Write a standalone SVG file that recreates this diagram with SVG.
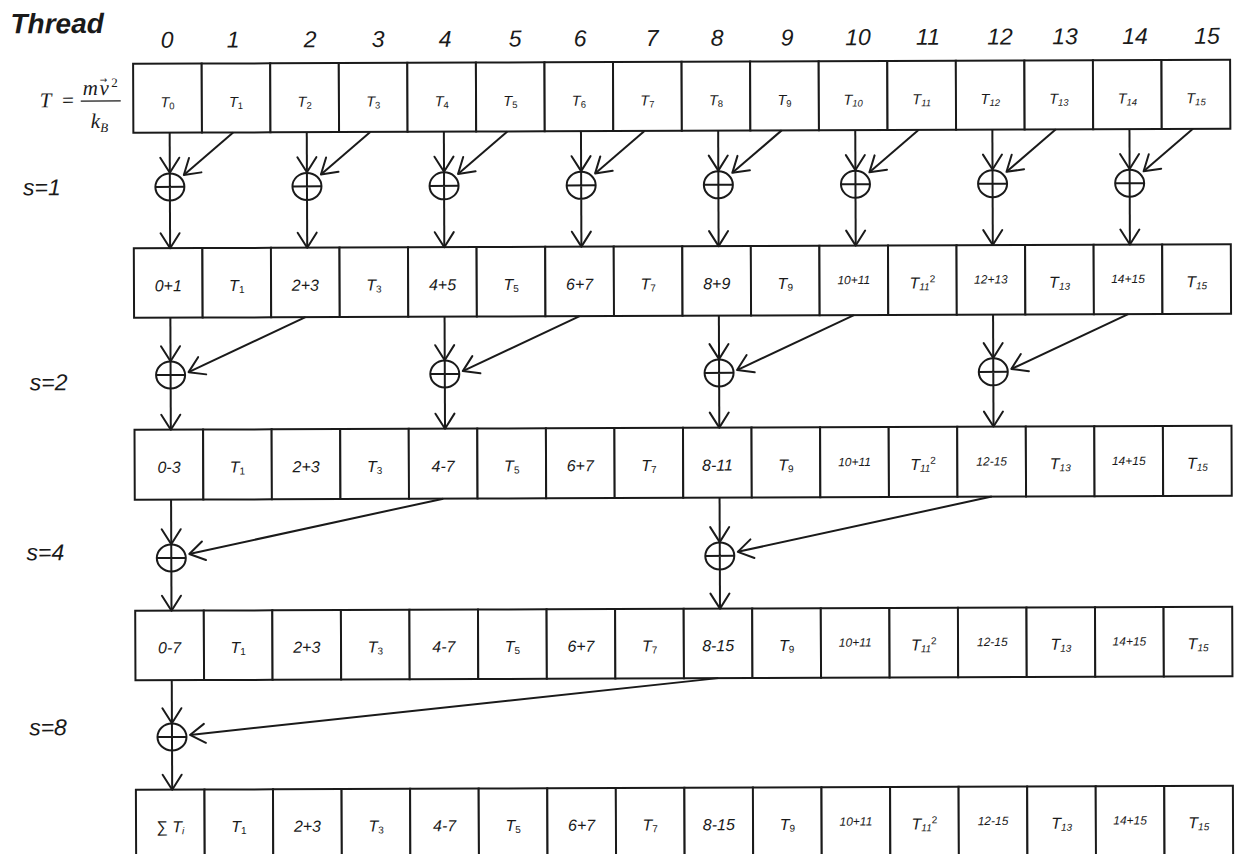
<svg xmlns="http://www.w3.org/2000/svg" width="1238" height="854" viewBox="0 0 1238 854">
<style>
.box{fill:#fff;stroke:#1a1a1a;stroke-width:2}
.ln{stroke:#1a1a1a;stroke-width:2;fill:none;marker-end:url(#ah)}
.op{fill:none;stroke:#1a1a1a;stroke-width:2}
text{fill:#1a1a1a;font-family:"Liberation Sans",Arial,sans-serif;font-style:italic}
.num{font-size:23px;text-anchor:middle}
.slab{font-size:23px}
.t1{font-size:14.5px;text-anchor:middle}
.lab{font-size:16px;text-anchor:middle}
.sm{font-size:12px;text-anchor:middle}
.sb{font-size:10px}
.sn{font-size:10px;font-style:normal}
.sb1{font-size:9.5px;font-style:normal}
.sb1i{font-size:9.5px}
.math{font-family:"Liberation Serif","Times New Roman",serif}
</style>
<defs>
<marker id="ah" markerUnits="userSpaceOnUse" markerWidth="40" markerHeight="40" refX="0" refY="0" orient="auto" overflow="visible">
<path d="M-15,-9.5 L0,0 L-15,9.5" fill="none" stroke="#1a1a1a" stroke-width="2" stroke-linejoin="round" stroke-linecap="round"/>
</marker>
<g id="oplus"><ellipse cx="0" cy="0" rx="14.5" ry="13.5"/><path d="M-14.5,0H14.5M0,-13.5V13.5"/></g>
</defs>
<rect x="0" y="0" width="1238" height="854" fill="#fff"/>
<g transform="rotate(-0.22 619 427)">
<g id="header">
<text x="12" y="31" style="font-size:28px;font-weight:bold">Thread</text>
<text class="num" x="168.5" y="46">0</text>
<text class="num" x="234.5" y="46">1</text>
<text class="num" x="311.5" y="46">2</text>
<text class="num" x="379.5" y="46">3</text>
<text class="num" x="446.5" y="46">4</text>
<text class="num" x="516.5" y="46">5</text>
<text class="num" x="581.5" y="46">6</text>
<text class="num" x="653.5" y="46">7</text>
<text class="num" x="718.5" y="46">8</text>
<text class="num" x="788.5" y="46">9</text>
<text class="num" x="859.5" y="46">10</text>
<text class="num" x="929.5" y="46">11</text>
<text class="num" x="1001.5" y="46">12</text>
<text class="num" x="1066.5" y="46">13</text>
<text class="num" x="1136.5" y="46">14</text>
<text class="num" x="1208.5" y="46">15</text>
</g>
<g id="formula">
<text class="math" x="41" y="105" font-size="21">T</text>
<text class="math" x="62" y="105" font-size="21" font-style="normal">=</text>
<line x1="82" y1="99" x2="122" y2="99" stroke="#1a1a1a" stroke-width="1.3"/>
<text class="math" x="84" y="93" font-size="21">m<tspan dx="1.5">v</tspan><tspan dx="-9" dy="-12" font-size="9" font-style="normal" font-family="DejaVu Sans, sans-serif">→</tspan><tspan dx="4" dy="4" font-size="13" font-style="normal">2</tspan></text>
<text class="math" x="92" y="126" font-size="21">k<tspan dy="4" font-size="13">B</tspan></text>
</g>
<g id="steps">
<text class="slab" x="24" y="193">s=1</text>
<text class="slab" x="30" y="388">s=2</text>
<text class="slab" x="26" y="558">s=4</text>
<text class="slab" x="28" y="733">s=8</text>
</g>
<g id="row1">
<g id="r1c0"><rect class="box" x="134.5" y="62" width="68.6" height="69"/><text class="t1" x="168.8" y="105.5">T<tspan class="sb1" dy="2">0</tspan></text></g>
<g id="r1c1"><rect class="box" x="203.1" y="62" width="68.6" height="69"/><text class="t1" x="237.3" y="105.5">T<tspan class="sb1" dy="2">1</tspan></text></g>
<g id="r1c2"><rect class="box" x="271.6" y="62" width="68.6" height="69"/><text class="t1" x="305.9" y="105.5">T<tspan class="sb1" dy="2">2</tspan></text></g>
<g id="r1c3"><rect class="box" x="340.2" y="62" width="68.6" height="69"/><text class="t1" x="374.5" y="105.5">T<tspan class="sb1" dy="2">3</tspan></text></g>
<g id="r1c4"><rect class="box" x="408.7" y="62" width="68.6" height="69"/><text class="t1" x="443" y="105.5">T<tspan class="sb1" dy="2">4</tspan></text></g>
<g id="r1c5"><rect class="box" x="477.3" y="62" width="68.6" height="69"/><text class="t1" x="511.6" y="105.5">T<tspan class="sb1" dy="2">5</tspan></text></g>
<g id="r1c6"><rect class="box" x="545.9" y="62" width="68.6" height="69"/><text class="t1" x="580.1" y="105.5">T<tspan class="sb1" dy="2">6</tspan></text></g>
<g id="r1c7"><rect class="box" x="614.4" y="62" width="68.6" height="69"/><text class="t1" x="648.7" y="105.5">T<tspan class="sb1" dy="2">7</tspan></text></g>
<g id="r1c8"><rect class="box" x="683" y="62" width="68.6" height="69"/><text class="t1" x="717.3" y="105.5">T<tspan class="sb1" dy="2">8</tspan></text></g>
<g id="r1c9"><rect class="box" x="751.5" y="62" width="68.6" height="69"/><text class="t1" x="785.8" y="105.5">T<tspan class="sb1" dy="2">9</tspan></text></g>
<g id="r1c10"><rect class="box" x="820.1" y="62" width="68.6" height="69"/><text class="t1" x="854.4" y="105.5">T<tspan class="sb1i" dy="2">10</tspan></text></g>
<g id="r1c11"><rect class="box" x="888.7" y="62" width="68.6" height="69"/><text class="t1" x="922.9" y="105.5">T<tspan class="sb1i" dy="2">11</tspan></text></g>
<g id="r1c12"><rect class="box" x="957.2" y="62" width="68.6" height="69"/><text class="t1" x="991.5" y="105.5">T<tspan class="sb1i" dy="2">12</tspan></text></g>
<g id="r1c13"><rect class="box" x="1025.8" y="62" width="68.6" height="69"/><text class="t1" x="1060.1" y="105.5">T<tspan class="sb1i" dy="2">13</tspan></text></g>
<g id="r1c14"><rect class="box" x="1094.3" y="62" width="68.6" height="69"/><text class="t1" x="1128.6" y="105.5">T<tspan class="sb1i" dy="2">14</tspan></text></g>
<g id="r1c15"><rect class="box" x="1162.9" y="62" width="68.6" height="69"/><text class="t1" x="1197.2" y="105.5">T<tspan class="sb1i" dy="2">15</tspan></text></g>
</g>
<g id="row2">
<g id="r2c0"><rect class="box" x="134.5" y="246.5" width="68.6" height="69.5"/><text class="lab" x="168.8" y="289.5">0+1</text></g>
<g id="r2c1"><rect class="box" x="203.1" y="246.5" width="68.6" height="69.5"/><text class="lab" x="237.3" y="289.5">T<tspan class="sn" dy="2">1</tspan></text></g>
<g id="r2c2"><rect class="box" x="271.6" y="246.5" width="68.6" height="69.5"/><text class="lab" x="305.9" y="289.5">2+3</text></g>
<g id="r2c3"><rect class="box" x="340.2" y="246.5" width="68.6" height="69.5"/><text class="lab" x="374.5" y="289.5">T<tspan class="sn" dy="2">3</tspan></text></g>
<g id="r2c4"><rect class="box" x="408.7" y="246.5" width="68.6" height="69.5"/><text class="lab" x="443" y="289.5">4+5</text></g>
<g id="r2c5"><rect class="box" x="477.3" y="246.5" width="68.6" height="69.5"/><text class="lab" x="511.6" y="289.5">T<tspan class="sn" dy="2">5</tspan></text></g>
<g id="r2c6"><rect class="box" x="545.9" y="246.5" width="68.6" height="69.5"/><text class="lab" x="580.1" y="289.5">6+7</text></g>
<g id="r2c7"><rect class="box" x="614.4" y="246.5" width="68.6" height="69.5"/><text class="lab" x="648.7" y="289.5">T<tspan class="sn" dy="2">7</tspan></text></g>
<g id="r2c8"><rect class="box" x="683" y="246.5" width="68.6" height="69.5"/><text class="lab" x="717.3" y="289.5">8+9</text></g>
<g id="r2c9"><rect class="box" x="751.5" y="246.5" width="68.6" height="69.5"/><text class="lab" x="785.8" y="289.5">T<tspan class="sn" dy="2">9</tspan></text></g>
<g id="r2c10"><rect class="box" x="820.1" y="246.5" width="68.6" height="69.5"/><text class="sm" x="854.4" y="285">10+11</text></g>
<g id="r2c11"><rect class="box" x="888.7" y="246.5" width="68.6" height="69.5"/><text class="lab" x="922.9" y="289.5">T<tspan class="sb" dy="2">11</tspan><tspan class="sn" dy="-8">2</tspan></text></g>
<g id="r2c12"><rect class="box" x="957.2" y="246.5" width="68.6" height="69.5"/><text class="sm" x="991.5" y="285">12+13</text></g>
<g id="r2c13"><rect class="box" x="1025.8" y="246.5" width="68.6" height="69.5"/><text class="lab" x="1060.1" y="289.5">T<tspan class="sb" dy="2">13</tspan></text></g>
<g id="r2c14"><rect class="box" x="1094.3" y="246.5" width="68.6" height="69.5"/><text class="sm" x="1128.6" y="285">14+15</text></g>
<g id="r2c15"><rect class="box" x="1162.9" y="246.5" width="68.6" height="69.5"/><text class="lab" x="1197.2" y="289.5">T<tspan class="sb" dy="2">15</tspan></text></g>
</g>
<g id="row3">
<g id="r3c0"><rect class="box" x="134.5" y="428" width="68.6" height="70"/><text class="lab" x="168.8" y="471">0-3</text></g>
<g id="r3c1"><rect class="box" x="203.1" y="428" width="68.6" height="70"/><text class="lab" x="237.3" y="471">T<tspan class="sn" dy="2">1</tspan></text></g>
<g id="r3c2"><rect class="box" x="271.6" y="428" width="68.6" height="70"/><text class="lab" x="305.9" y="471">2+3</text></g>
<g id="r3c3"><rect class="box" x="340.2" y="428" width="68.6" height="70"/><text class="lab" x="374.5" y="471">T<tspan class="sn" dy="2">3</tspan></text></g>
<g id="r3c4"><rect class="box" x="408.7" y="428" width="68.6" height="70"/><text class="lab" x="443" y="471">4-7</text></g>
<g id="r3c5"><rect class="box" x="477.3" y="428" width="68.6" height="70"/><text class="lab" x="511.6" y="471">T<tspan class="sn" dy="2">5</tspan></text></g>
<g id="r3c6"><rect class="box" x="545.9" y="428" width="68.6" height="70"/><text class="lab" x="580.1" y="471">6+7</text></g>
<g id="r3c7"><rect class="box" x="614.4" y="428" width="68.6" height="70"/><text class="lab" x="648.7" y="471">T<tspan class="sn" dy="2">7</tspan></text></g>
<g id="r3c8"><rect class="box" x="683" y="428" width="68.6" height="70"/><text class="lab" x="717.3" y="471">8-11</text></g>
<g id="r3c9"><rect class="box" x="751.5" y="428" width="68.6" height="70"/><text class="lab" x="785.8" y="471">T<tspan class="sn" dy="2">9</tspan></text></g>
<g id="r3c10"><rect class="box" x="820.1" y="428" width="68.6" height="70"/><text class="sm" x="854.4" y="467">10+11</text></g>
<g id="r3c11"><rect class="box" x="888.7" y="428" width="68.6" height="70"/><text class="lab" x="922.9" y="471">T<tspan class="sb" dy="2">11</tspan><tspan class="sn" dy="-8">2</tspan></text></g>
<g id="r3c12"><rect class="box" x="957.2" y="428" width="68.6" height="70"/><text class="sm" x="991.5" y="467">12-15</text></g>
<g id="r3c13"><rect class="box" x="1025.8" y="428" width="68.6" height="70"/><text class="lab" x="1060.1" y="471">T<tspan class="sb" dy="2">13</tspan></text></g>
<g id="r3c14"><rect class="box" x="1094.3" y="428" width="68.6" height="70"/><text class="sm" x="1128.6" y="467">14+15</text></g>
<g id="r3c15"><rect class="box" x="1162.9" y="428" width="68.6" height="70"/><text class="lab" x="1197.2" y="471">T<tspan class="sb" dy="2">15</tspan></text></g>
</g>
<g id="row4">
<g id="r4c0"><rect class="box" x="134.5" y="609" width="68.6" height="69.5"/><text class="lab" x="168.8" y="651.5">0-7</text></g>
<g id="r4c1"><rect class="box" x="203.1" y="609" width="68.6" height="69.5"/><text class="lab" x="237.3" y="651.5">T<tspan class="sn" dy="2">1</tspan></text></g>
<g id="r4c2"><rect class="box" x="271.6" y="609" width="68.6" height="69.5"/><text class="lab" x="305.9" y="651.5">2+3</text></g>
<g id="r4c3"><rect class="box" x="340.2" y="609" width="68.6" height="69.5"/><text class="lab" x="374.5" y="651.5">T<tspan class="sn" dy="2">3</tspan></text></g>
<g id="r4c4"><rect class="box" x="408.7" y="609" width="68.6" height="69.5"/><text class="lab" x="443" y="651.5">4-7</text></g>
<g id="r4c5"><rect class="box" x="477.3" y="609" width="68.6" height="69.5"/><text class="lab" x="511.6" y="651.5">T<tspan class="sn" dy="2">5</tspan></text></g>
<g id="r4c6"><rect class="box" x="545.9" y="609" width="68.6" height="69.5"/><text class="lab" x="580.1" y="651.5">6+7</text></g>
<g id="r4c7"><rect class="box" x="614.4" y="609" width="68.6" height="69.5"/><text class="lab" x="648.7" y="651.5">T<tspan class="sn" dy="2">7</tspan></text></g>
<g id="r4c8"><rect class="box" x="683" y="609" width="68.6" height="69.5"/><text class="lab" x="717.3" y="651.5">8-15</text></g>
<g id="r4c9"><rect class="box" x="751.5" y="609" width="68.6" height="69.5"/><text class="lab" x="785.8" y="651.5">T<tspan class="sn" dy="2">9</tspan></text></g>
<g id="r4c10"><rect class="box" x="820.1" y="609" width="68.6" height="69.5"/><text class="sm" x="854.4" y="647.5">10+11</text></g>
<g id="r4c11"><rect class="box" x="888.7" y="609" width="68.6" height="69.5"/><text class="lab" x="922.9" y="651.5">T<tspan class="sb" dy="2">11</tspan><tspan class="sn" dy="-8">2</tspan></text></g>
<g id="r4c12"><rect class="box" x="957.2" y="609" width="68.6" height="69.5"/><text class="sm" x="991.5" y="647.5">12-15</text></g>
<g id="r4c13"><rect class="box" x="1025.8" y="609" width="68.6" height="69.5"/><text class="lab" x="1060.1" y="651.5">T<tspan class="sb" dy="2">13</tspan></text></g>
<g id="r4c14"><rect class="box" x="1094.3" y="609" width="68.6" height="69.5"/><text class="sm" x="1128.6" y="647.5">14+15</text></g>
<g id="r4c15"><rect class="box" x="1162.9" y="609" width="68.6" height="69.5"/><text class="lab" x="1197.2" y="651.5">T<tspan class="sb" dy="2">15</tspan></text></g>
</g>
<g id="row5">
<g id="r5c0"><rect class="box" x="134.5" y="788" width="68.6" height="80"/><text class="lab" x="168.8" y="830.5"><tspan font-style="normal">∑</tspan> T<tspan class="sb" dy="2">i</tspan></text></g>
<g id="r5c1"><rect class="box" x="203.1" y="788" width="68.6" height="80"/><text class="lab" x="237.3" y="830.5">T<tspan class="sn" dy="2">1</tspan></text></g>
<g id="r5c2"><rect class="box" x="271.6" y="788" width="68.6" height="80"/><text class="lab" x="305.9" y="830.5">2+3</text></g>
<g id="r5c3"><rect class="box" x="340.2" y="788" width="68.6" height="80"/><text class="lab" x="374.5" y="830.5">T<tspan class="sn" dy="2">3</tspan></text></g>
<g id="r5c4"><rect class="box" x="408.7" y="788" width="68.6" height="80"/><text class="lab" x="443" y="830.5">4-7</text></g>
<g id="r5c5"><rect class="box" x="477.3" y="788" width="68.6" height="80"/><text class="lab" x="511.6" y="830.5">T<tspan class="sn" dy="2">5</tspan></text></g>
<g id="r5c6"><rect class="box" x="545.9" y="788" width="68.6" height="80"/><text class="lab" x="580.1" y="830.5">6+7</text></g>
<g id="r5c7"><rect class="box" x="614.4" y="788" width="68.6" height="80"/><text class="lab" x="648.7" y="830.5">T<tspan class="sn" dy="2">7</tspan></text></g>
<g id="r5c8"><rect class="box" x="683" y="788" width="68.6" height="80"/><text class="lab" x="717.3" y="830.5">8-15</text></g>
<g id="r5c9"><rect class="box" x="751.5" y="788" width="68.6" height="80"/><text class="lab" x="785.8" y="830.5">T<tspan class="sn" dy="2">9</tspan></text></g>
<g id="r5c10"><rect class="box" x="820.1" y="788" width="68.6" height="80"/><text class="sm" x="854.4" y="826.5">10+11</text></g>
<g id="r5c11"><rect class="box" x="888.7" y="788" width="68.6" height="80"/><text class="lab" x="922.9" y="830.5">T<tspan class="sb" dy="2">11</tspan><tspan class="sn" dy="-8">2</tspan></text></g>
<g id="r5c12"><rect class="box" x="957.2" y="788" width="68.6" height="80"/><text class="sm" x="991.5" y="826.5">12-15</text></g>
<g id="r5c13"><rect class="box" x="1025.8" y="788" width="68.6" height="80"/><text class="lab" x="1060.1" y="830.5">T<tspan class="sb" dy="2">13</tspan></text></g>
<g id="r5c14"><rect class="box" x="1094.3" y="788" width="68.6" height="80"/><text class="sm" x="1128.6" y="826.5">14+15</text></g>
<g id="r5c15"><rect class="box" x="1162.9" y="788" width="68.6" height="80"/><text class="lab" x="1197.2" y="830.5">T<tspan class="sb" dy="2">15</tspan></text></g>
</g>
<g id="adders" class="op">
<g id="add-s1-0"><use href="#oplus" x="170.8" y="185.2"/></g>
<g id="add-s1-2"><use href="#oplus" x="307.9" y="185.2"/></g>
<g id="add-s1-4"><use href="#oplus" x="445" y="185.2"/></g>
<g id="add-s1-6"><use href="#oplus" x="582.1" y="185.2"/></g>
<g id="add-s1-8"><use href="#oplus" x="719.3" y="185.2"/></g>
<g id="add-s1-10"><use href="#oplus" x="856.4" y="185.2"/></g>
<g id="add-s1-12"><use href="#oplus" x="993.5" y="185.2"/></g>
<g id="add-s1-14"><use href="#oplus" x="1130.6" y="185.2"/></g>
<g id="add-s2-0"><use href="#oplus" x="170.8" y="373.3"/></g>
<g id="add-s2-4"><use href="#oplus" x="445" y="373.3"/></g>
<g id="add-s2-8"><use href="#oplus" x="719.3" y="373.3"/></g>
<g id="add-s2-12"><use href="#oplus" x="993.5" y="373.3"/></g>
<g id="add-s4-0"><use href="#oplus" x="170.8" y="556.3"/></g>
<g id="add-s4-8"><use href="#oplus" x="719.3" y="556.3"/></g>
<g id="add-s8-0"><use href="#oplus" x="170.8" y="735.3"/></g>
</g>
<g id="connectors">
<path class="ln" d="M170.8,131V171"/><path class="ln" d="M170.8,199V246.5"/><path class="ln" d="M234.3,131L184.8,173.3"/>
<path class="ln" d="M307.9,131V171"/><path class="ln" d="M307.9,199V246.5"/><path class="ln" d="M371.4,131L321.9,173.3"/>
<path class="ln" d="M445,131V171"/><path class="ln" d="M445,199V246.5"/><path class="ln" d="M508.5,131L459,173.3"/>
<path class="ln" d="M582.1,131V171"/><path class="ln" d="M582.1,199V246.5"/><path class="ln" d="M645.6,131L596.1,173.3"/>
<path class="ln" d="M719.3,131V171"/><path class="ln" d="M719.3,199V246.5"/><path class="ln" d="M782.8,131L733.3,173.3"/>
<path class="ln" d="M856.4,131V171"/><path class="ln" d="M856.4,199V246.5"/><path class="ln" d="M919.9,131L870.4,173.3"/>
<path class="ln" d="M993.5,131V171"/><path class="ln" d="M993.5,199V246.5"/><path class="ln" d="M1057,131L1007.5,173.3"/>
<path class="ln" d="M1130.6,131V171"/><path class="ln" d="M1130.6,199V246.5"/><path class="ln" d="M1194.1,131L1144.6,173.3"/>
<path class="ln" d="M170.8,316V359.5"/><path class="ln" d="M170.8,387V428"/><path class="ln" d="M305.9,316L188.8,370.5"/>
<path class="ln" d="M445,316V359.5"/><path class="ln" d="M445,387V428"/><path class="ln" d="M580.1,316L463,370.5"/>
<path class="ln" d="M719.3,316V359.5"/><path class="ln" d="M719.3,387V428"/><path class="ln" d="M854.4,316L737.3,370.5"/>
<path class="ln" d="M993.5,316V359.5"/><path class="ln" d="M993.5,387V428"/><path class="ln" d="M1128.6,316L1011.5,370.5"/>
<path class="ln" d="M170.8,498V542.5"/><path class="ln" d="M170.8,570V609"/><path class="ln" d="M443,498L188.8,552.3"/>
<path class="ln" d="M719.3,498V542.5"/><path class="ln" d="M719.3,570V609"/><path class="ln" d="M991.5,498L737.3,552.3"/>
<path class="ln" d="M170.8,678.5V721.5"/><path class="ln" d="M170.8,749V788"/><path class="ln" d="M717.3,678.5L188.8,733.3"/>
</g>
</g>
</svg>
